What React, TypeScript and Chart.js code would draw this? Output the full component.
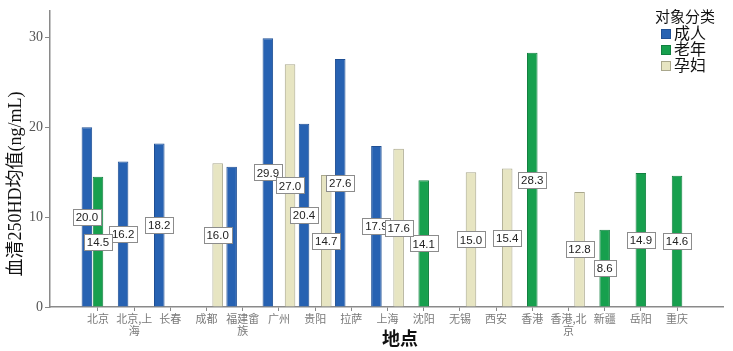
import React, { useEffect, useRef } from "react";
import { Chart, registerables } from "chart.js";

Chart.register(...registerables);

const categories = ["北京", "北京,上海", "长春", "成都", "福建畲族", "广州", "贵阳", "拉萨", "上海", "沈阳", "无锡", "西安", "香港", "香港,北京", "新疆", "岳阳", "重庆"];
const tickLabels: string[][] = [["北京"], ["北京,上", "海"], ["长春"], ["成都"], ["福建畲", "族"], ["广州"], ["贵阳"], ["拉萨"], ["上海"], ["沈阳"], ["无锡"], ["西安"], ["香港"], ["香港,北", "京"], ["新疆"], ["岳阳"], ["重庆"]];
const adult = [20.0, 16.2, 18.2, null, 15.6, 29.9, 20.4, 27.6, 17.9, null, null, null, null, null, null, null, null];
const elderly = [14.5, null, null, null, null, null, null, null, null, 14.1, null, null, 28.3, null, 8.6, 14.9, 14.6];
const pregnant = [null, null, null, 16.0, null, 27.0, 14.7, null, 17.6, null, 15.0, 15.4, null, 12.8, null, null, null];
const seriesNames = ["成人", "老年", "孕妇"];
const unlabeledCategories = ["福建畲族"];
const yTicks = [0, 10, 20, 30];
const yTitle = "血清250HD均值(ng/mL)";
const xTitle = "地点";
const legendTitle = "对象分类";

const colors = ["#2762b2", "#17a04e", "#e7e5c2"];
const borders = ["#1f4f94", "#128040", "#a9a78c"];

const SERIF = '"Liberation Serif", "DejaVu Serif", "Noto Sans CJK SC", serif';
const SANS = '"Liberation Sans", Arial, sans-serif';

function toPoints(arr: (number | null)[]) {
  return arr.map((v, i) => ({ x: i, y: v }));
}

const overlayPlugin = {
  id: "overlay",
  afterDatasetsDraw(chart: any) {
    const ctx = chart.ctx;
    ctx.save();
    chart.data.datasets.forEach((ds: any, di: number) => {
      const meta = chart.getDatasetMeta(di);
      meta.data.forEach((el: any, i: number) => {
        const v = ds.data[i].y;
        if (v == null) return;
        if (unlabeledCategories.includes(categories[i])) return;
        const txt = v.toFixed(1);
        ctx.font = `11.5px ${SANS}`;
        const w = Math.round(ctx.measureText(txt).width + 6);
        const h = 16;
        const cx = el.x;
        const cy = (el.y + el.base) / 2;
        const bx = Math.round(cx - w / 2) + 0.5;
        const by = Math.round(cy - h / 2) + 0.5;
        ctx.fillStyle = "#ffffff";
        ctx.fillRect(bx, by, w, h);
        ctx.strokeStyle = "#8c8c8c";
        ctx.lineWidth = 1;
        ctx.strokeRect(bx, by, w, h);
        ctx.fillStyle = "#222222";
        ctx.textAlign = "center";
        ctx.textBaseline = "middle";
        ctx.fillText(txt, cx, cy + 1);
      });
    });
    ctx.restore();
  },
  afterDraw(chart: any) {
    const ctx = chart.ctx;
    ctx.save();
    ctx.translate(16, 184);
    ctx.rotate(-Math.PI / 2);
    ctx.font = `18px ${SERIF}`;
    ctx.fillStyle = "#111";
    ctx.textAlign = "center";
    ctx.textBaseline = "middle";
    ctx.fillText(yTitle, 0, 0);
    ctx.restore();

    ctx.save();
    ctx.font = `bold 18px ${SERIF}`;
    ctx.fillStyle = "#111";
    ctx.textAlign = "center";
    ctx.textBaseline = "middle";
    ctx.fillText(xTitle, 400, 340);

    ctx.font = `15px ${SERIF}`;
    ctx.textAlign = "left";
    ctx.fillText(legendTitle, 655, 18);
    seriesNames.forEach((name, i) => {
      const y = 34 + i * 16;
      ctx.fillStyle = colors[i];
      ctx.fillRect(661, y - 5, 10, 10);
      ctx.strokeStyle = borders[i];
      ctx.lineWidth = 1;
      ctx.strokeRect(661.5, y - 4.5, 9, 9);
      ctx.fillStyle = "#111";
      ctx.font = `16px ${SERIF}`;
      ctx.fillText(name, 674, y + 1);
    });
    ctx.restore();
  },
};

export default function App() {
  const ref = useRef<HTMLCanvasElement | null>(null);
  useEffect(() => {
    document.body.style.margin = "0";
    const canvas = ref.current!;
    const datasets = [adult, elderly, pregnant].map((arr, i) => ({
      label: seriesNames[i],
      data: toPoints(arr),
      backgroundColor: colors[i],
      borderColor: borders[i],
      borderWidth: 1,
      categoryPercentage: 0.92,
      barPercentage: 0.95,
    }));
    const chart = new Chart(canvas, {
      type: "bar",
      data: { datasets: datasets as any },
      options: {
        animation: false,
        responsive: false,
        maintainAspectRatio: false,
        layout: { padding: { top: 6, right: 10, left: 0, bottom: 0 } },
        plugins: { legend: { display: false }, tooltip: { enabled: false } },
        scales: {
          x: {
            type: "linear",
            offset: false,
            min: -1.326,
            max: 17.27,
            afterBuildTicks(scale: any) {
              scale.ticks = categories.map((_, i) => ({ value: i }));
            },
            afterFit(scale: any) {
              scale.height = 44;
            },
            ticks: {
              autoSkip: false,
              maxRotation: 0,
              padding: 2,
              color: "#7a7a7a",
              font: { size: 11, family: '"Noto Sans CJK SC", sans-serif', lineHeight: 1.05 },
              callback: (v: any) => {
                const t = tickLabels[v as number];
                return t ? (t.length === 1 ? t[0] : t) : "";
              },
            },
            grid: { display: true, offset: false, drawOnChartArea: false, drawTicks: true, tickLength: 4, color: "#888" },
            border: { display: true, color: "#8a8a8a", width: 1.5 },
          },
          y: {
            min: 0,
            max: 33,
            afterBuildTicks(scale: any) {
              scale.ticks = yTicks.map((v) => ({ value: v }));
            },
            afterFit(scale: any) {
              scale.width = 50;
            },
            ticks: {
              padding: 2,
              color: "#555",
              font: { size: 14, family: SERIF },
            },
            grid: { display: true, drawOnChartArea: false, drawTicks: true, tickLength: 5, color: "#888" },
            border: { display: true, color: "#8a8a8a", width: 1.5 },
          },
        },
      },
      plugins: [overlayPlugin],
    });
    return () => chart.destroy();
  }, []);
  return <canvas ref={ref} width={733} height={351} style={{ display: "block", width: 733, height: 351 }} />;
}
